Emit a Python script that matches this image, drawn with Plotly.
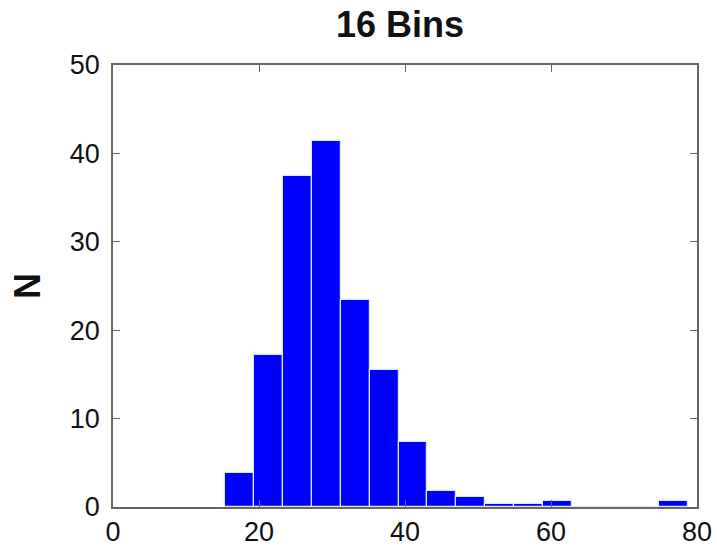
import plotly.graph_objects as go

# Histogram of N counts, 16 equal-width bins
bin_start = 15.3
bin_end = 78.8
n_bins = 16
counts = [3.8, 17.2, 37.5, 41.4, 23.4, 15.5, 7.3, 1.8, 1.1, 0.3, 0.3, 0.7, 0, 0, 0, 0.7]

x_ticks = [0, 20, 40, 60, 80]
y_ticks = [0, 10, 20, 30, 40, 50]

width = (bin_end - bin_start) / n_bins
centers = [bin_start + width * (i + 0.5) for i in range(n_bins)]

FONT = "Liberation Sans, Arial, sans-serif"

fig = go.Figure(
    go.Bar(
        x=centers,
        y=counts,
        width=[width] * n_bins,
        marker=dict(color="#0000FF", line=dict(color="#DDE6FF", width=1.2)),
    )
)

axis_common = dict(
    showgrid=False,
    zeroline=False,
    showline=True,
    linecolor="#666666",
    linewidth=1.5,
    mirror="ticks",
    ticks="inside",
    ticklen=7,
    tickcolor="#666666",
    automargin=False,
    tickfont=dict(family=FONT, size=27, color="#111111"),
)

fig.update_layout(
    width=717,
    height=550,
    margin=dict(l=113, r=20, t=65, b=43),
    paper_bgcolor="white",
    plot_bgcolor="white",
    showlegend=False,
    bargap=0,
    title=dict(
        text="<b>16 Bins</b>",
        x=400 / 717,
        xanchor="center",
        y=1 - 24 / 550,
        yanchor="middle",
        font=dict(family=FONT, size=36, color="#111111"),
    ),
    xaxis=dict(range=[0, 80], tickvals=x_ticks, ticklabelstandoff=0, **axis_common),
    yaxis=dict(
        range=[0, 50],
        tickvals=y_ticks,
        ticklabelstandoff=6,
        title=dict(
            text="<b>N</b>",
            font=dict(family=FONT, size=36, color="#111111"),
            standoff=18,
        ),
        **axis_common,
    ),
)

fig.write_html("out.html")
